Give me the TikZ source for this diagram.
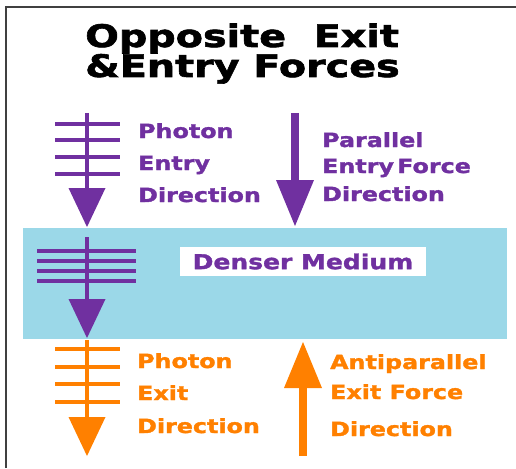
\documentclass[tikz,border=0pt]{standalone}
\usepackage{fontspec}
\newfontfamily\boldwide[FakeStretch=1.22, FakeBold=1.6]{DejaVu Sans}
\newfontfamily\titlewide[FakeStretch=1.28, FakeBold=2]{DejaVu Sans}
\usetikzlibrary{arrows.meta}
\definecolor{mypurple}{RGB}{112,48,160}
\definecolor{myorange}{RGB}{255,128,0}
\definecolor{myblue}{RGB}{155,216,232}
\definecolor{myframe}{RGB}{64,64,64}
\tikzset{
    titletext/.style={anchor=base west, inner sep=0pt,
        font=\titlewide\bfseries\fontsize{31}{31}\selectfont},
    labeltext/.style={anchor=base west, inner sep=0pt,
        font=\boldwide\bfseries\fontsize{19.5}{19.5}\selectfont},
    bar/.style={line width=4pt},
    photon/.style={line width=4pt, -{Triangle[width=37pt, length=39pt, line width=0pt]}},
    force/.style={line width=8pt, -{Triangle[width=38pt, length=46pt, line width=0pt]}}
}

\begin{document}
\begin{tikzpicture}[x=1pt, y=-1pt]
    \useasboundingbox (0, 0) rectangle (516, 468);
    \draw[myframe, line width=2pt] (6, 468) -- (6, 7.5) -- (516, 7.5);

    % title
    \node[titletext] (title1) at (85, 47) {Opposite\ \ Exit};
    \node[titletext] (title2) at (85, 77) {\&Entry Forces};

    % medium
    \node[fill=myblue, inner sep=0pt, minimum width=484pt, minimum height=111pt]
        (medium) at (265, 283.5) {};
    \node[fill=white, inner sep=0pt, minimum width=246pt, minimum height=29pt,
        text=mypurple, font=\boldwide\bfseries\fontsize{20.5}{20.5}\selectfont]
        (denser) at (303, 261.5) {Denser\ Medium};

    % entry
    \coordinate (entryTop) at (87, 113);
    \coordinate (entryTip) at (87, 227);
    \draw[bar, mypurple] (55, 124) -- (120, 124) (55, 140) -- (120, 140)
        (55, 157) -- (120, 157) (55, 174) -- (120, 174);
    \draw[photon, mypurple] (entryTop) -- (entryTip);
    \node[labeltext, text=mypurple] (entry1) at (138, 138) {Photon};
    \node[labeltext, text=mypurple] (entry2) at (138, 170) {Entry};
    \node[labeltext, text=mypurple] (entry3) at (138, 202) {Direction};

    \coordinate (parTop) at (295, 113);
    \coordinate (parTip) at (295, 226);
    \draw[force, mypurple] (parTop) -- (parTip);
    \node[labeltext, text=mypurple] (par1) at (322, 147) {Parallel};
    \node[labeltext, text=mypurple] (par2) at (322, 173) {Entry\,Force};
    \node[labeltext, text=mypurple] (par3) at (322, 201) {Direction};

    % inside
    \coordinate (insideTop) at (87, 237);
    \coordinate (insideTip) at (87, 338);
    \draw[bar, mypurple] (37, 251) -- (136, 251) (37, 261) -- (136, 261)
        (37, 271) -- (136, 271) (37, 281) -- (136, 281);
    \draw[photon, mypurple] (insideTop) -- (insideTip);

    % exit
    \coordinate (exitTop) at (87, 340);
    \coordinate (exitTip) at (87, 456);
    \draw[bar, myorange] (55, 349) -- (120, 349) (55, 367) -- (120, 367)
        (55, 384) -- (120, 384) (55, 402) -- (120, 402);
    \draw[photon, myorange] (exitTop) -- (exitTip);
    \node[labeltext, text=myorange] (exit1) at (137, 368) {Photon};
    \node[labeltext, text=myorange] (exit2) at (137, 400) {Exit};
    \node[labeltext, text=myorange] (exit3) at (137, 433) {Direction};

    \coordinate (antiBottom) at (303, 456);
    \coordinate (antiTip) at (303, 342);
    \draw[force, myorange] (antiBottom) -- (antiTip);
    \node[labeltext, text=myorange] (anti1) at (330, 369) {Antiparallel};
    \node[labeltext, text=myorange] (anti2) at (330, 399) {Exit Force};
    \node[labeltext, text=myorange] (anti3) at (330, 436) {Direction};
\end{tikzpicture}
\end{document}
